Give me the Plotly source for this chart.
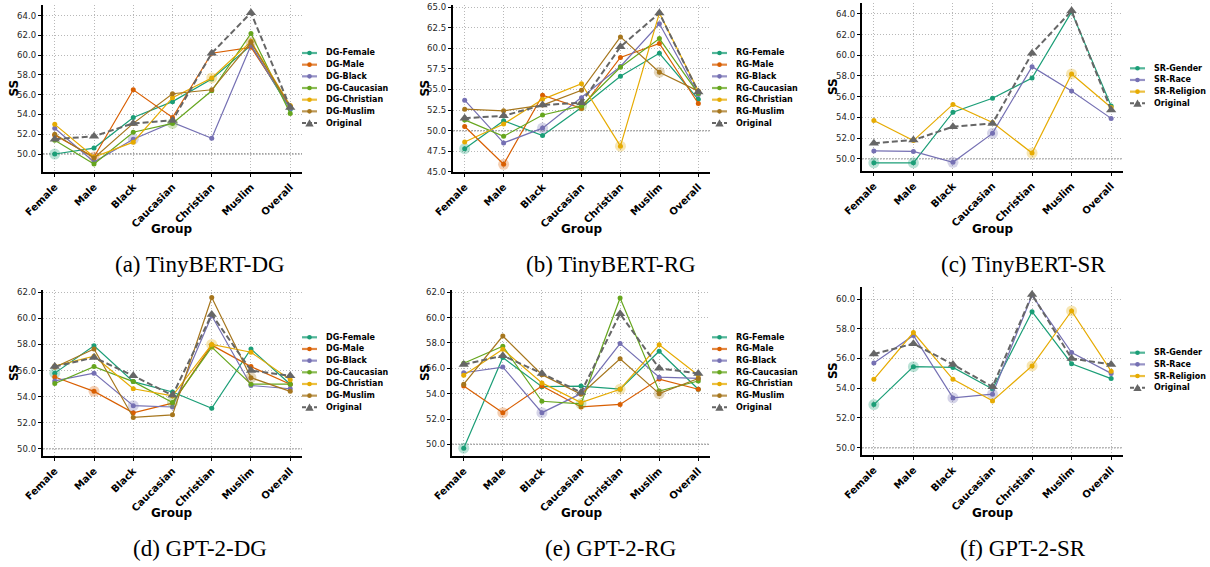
import plotly.graph_objects as go

W, H = 1210, 567

groups = ["Female", "Male", "Black", "Caucasian", "Christian", "Muslim", "Overall"]

# ---------------- TinyBERT ----------------
original_tb = [51.5, 51.8, 53.1, 53.4, 60.2, 64.3, 54.7]

dg_female_tb = [50.0, 50.6, 53.7, 55.3, 57.6, 61.0, 54.5]
dg_male_tb = [51.9, 49.7, 56.5, 53.7, 60.2, 60.8, 54.8]
dg_black_tb = [52.6, 49.2, 51.5, 53.2, 51.6, 61.0, 54.6]
dg_caucasian_tb = [51.4, 49.0, 52.2, 53.1, 56.4, 62.2, 54.1]
dg_christian_tb = [53.0, 49.7, 51.2, 55.7, 57.7, 61.4, 54.9]
dg_muslim_tb = [52.0, 49.6, 53.1, 56.1, 56.5, 61.3, 54.8]

rg_female_tb = [47.8, 51.2, 49.4, 52.8, 56.6, 59.4, 53.8]
rg_male_tb = [50.5, 45.9, 54.3, 52.7, 58.9, 60.6, 53.3]
rg_black_tb = [53.7, 48.5, 50.3, 54.0, 57.8, 63.0, 54.4]
rg_caucasian_tb = [51.3, 49.3, 51.9, 53.0, 57.7, 61.2, 54.5]
rg_christian_tb = [48.6, 50.8, 53.8, 55.7, 48.1, 64.3, 54.8]
rg_muslim_tb = [52.6, 52.4, 53.1, 54.9, 61.4, 57.1, 54.8]

sr_gender_tb = [49.6, 49.6, 54.5, 55.85, 57.8, 64.2, 55.1]
sr_race_tb = [50.75, 50.7, 49.65, 52.45, 58.9, 56.55, 53.9]
sr_religion_tb = [53.7, 51.75, 55.25, 53.5, 50.55, 58.2, 54.95]

# ---------------- GPT-2 ----------------
original_g = [56.3, 57.0, 55.6, 54.1, 60.3, 56.0, 55.6]

dg_female_g = [55.8, 57.9, 55.15, 54.35, 53.1, 57.65, 54.95]
dg_male_g = [55.5, 54.4, 52.75, 53.5, 57.95, 56.3, 54.95]
dg_black_g = [55.2, 55.8, 53.3, 53.2, 60.2, 54.85, 54.6]
dg_caucasian_g = [55.0, 56.3, 55.15, 53.55, 57.8, 54.95, 54.95]
dg_christian_g = [56.35, 57.1, 54.6, 54.05, 58.0, 57.4, 55.3]
dg_muslim_g = [56.25, 57.65, 52.4, 52.6, 61.6, 55.45, 54.4]

rg_female_g = [49.7, 56.85, 54.55, 54.6, 54.35, 57.35, 54.35]
rg_male_g = [54.6, 52.5, 54.6, 52.95, 53.15, 55.15, 54.35]
rg_black_g = [55.65, 56.1, 52.5, 54.0, 57.95, 55.3, 55.2]
rg_caucasian_g = [56.4, 57.75, 53.4, 53.2, 61.55, 54.2, 55.0]
rg_christian_g = [55.45, 57.5, 54.85, 53.3, 54.35, 57.85, 55.45]
rg_muslim_g = [54.75, 58.55, 55.5, 53.95, 56.75, 54.0, 55.2]

sr_gender_g = [52.9, 55.45, 55.4, 53.95, 59.15, 55.65, 54.65]
sr_race_g = [55.7, 57.55, 53.35, 53.6, 60.25, 56.4, 55.0]
sr_religion_g = [54.6, 57.75, 54.6, 53.15, 55.5, 59.2, 55.15]

dg_names = ["DG-Female", "DG-Male", "DG-Black", "DG-Caucasian", "DG-Christian", "DG-Muslim"]
rg_names = ["RG-Female", "RG-Male", "RG-Black", "RG-Caucasian", "RG-Christian", "RG-Muslim"]
sr_names = ["SR-Gender", "SR-Race", "SR-Religion"]
captions = ["(a) TinyBERT-DG", "(b) TinyBERT-RG", "(c) TinyBERT-SR",
            "(d) GPT-2-DG", "(e) GPT-2-RG", "(f) GPT-2-SR"]

colors6 = ["#1b9e77", "#d95f02", "#7570b3", "#66a61e", "#e6ab02", "#a6761d"]
colors3 = ["#1b9e77", "#7570b3", "#e6ab02"]
orig_color = "#666666"
halo6 = [[0], [1], [2], [3], [4], [5]]
halo3 = [[0, 1], [2, 3], [4, 5]]

FONT = "DejaVu Sans"

panels = [
    dict(names=dg_names, series=[dg_female_tb, dg_male_tb, dg_black_tb, dg_caucasian_tb, dg_christian_tb, dg_muslim_tb],
         colors=colors6, halos=halo6, orig=original_tb, box=(43, 5, 302, 172), yr=[48.18, 65.08], dtick=2,
         leg=(302, 53), ss_x=14, grp=(172, 229), cap=(200, 265)),
    dict(names=rg_names, series=[rg_female_tb, rg_male_tb, rg_black_tb, rg_caucasian_tb, rg_christian_tb, rg_muslim_tb],
         colors=colors6, halos=halo6, orig=original_tb, box=(453, 5, 710, 172), yr=[44.96, 65.28], dtick=2.5,
         leg=(712, 53), ss_x=425, grp=(582, 229), cap=(611, 265)),
    dict(names=sr_names, series=[sr_gender_tb, sr_race_tb, sr_religion_tb],
         colors=colors3, halos=halo3, orig=original_tb, box=(862, 3, 1123, 171), yr=[48.81, 65.06], dtick=2,
         leg=(1130, 68.3), ss_x=833, grp=(993, 229), cap=(1023, 265)),
    dict(names=dg_names, series=[dg_female_g, dg_male_g, dg_black_g, dg_caucasian_g, dg_christian_g, dg_muslim_g],
         colors=colors6, halos=halo6, orig=original_g, box=(43, 290, 302, 456), yr=[49.44, 62.18], dtick=2,
         leg=(302, 337.3), ss_x=14, grp=(172, 513), cap=(200, 548)),
    dict(names=rg_names, series=[rg_female_g, rg_male_g, rg_black_g, rg_caucasian_g, rg_christian_g, rg_muslim_g],
         colors=colors6, halos=halo6, orig=original_g, box=(452, 290, 710, 456), yr=[49.08, 62.18], dtick=2,
         leg=(712, 337.3), ss_x=425, grp=(582, 513), cap=(610, 548)),
    dict(names=sr_names, series=[sr_gender_g, sr_race_g, sr_religion_g],
         colors=colors3, halos=halo3, orig=original_g, box=(862, 287, 1123, 455), yr=[49.51, 60.81], dtick=2,
         leg=(1130, 352.7), ss_x=833, grp=(993, 513), cap=(1023, 548)),
]


def px(x):
    return x / W


def py(y):
    return 1 - y / H


fig = go.Figure()
shapes, annotations = [], []
layout = {}
ROW = 11.67

for k, p in enumerate(panels, start=1):
    sfx = "" if k == 1 else str(k)
    xa, ya = "x" + sfx, "y" + sfx
    x0, y0, x1, y1 = p["box"]
    layout["xaxis" + sfx] = dict(
        domain=[px(x0), px(x1)], anchor=ya, type="category",
        categoryorder="array", categoryarray=groups, range=[-0.3, 6.3],
        showline=True, linecolor="black", linewidth=1.5, mirror=False,
        ticks="outside", ticklen=3.5, tickwidth=1, tickcolor="black",
        tickangle=-45, tickfont=dict(family=FONT, size=10, color="black", weight="bold"),
        showgrid=True, gridcolor="#b8b8b8", griddash="1px,2px", gridwidth=1,
        zeroline=False, automargin=False, fixedrange=True,
    )
    layout["yaxis" + sfx] = dict(
        domain=[py(y1), py(y0)], anchor=xa, range=p["yr"], dtick=p["dtick"], tick0=50,
        tickformat=".1f",
        showline=True, linecolor="black", linewidth=1.5, mirror=False,
        ticks="outside", ticklen=3.5, tickwidth=1, tickcolor="black",
        tickfont=dict(family=FONT, size=8.5, color="#262626"),
        showgrid=True, gridcolor="#b8b8b8", griddash="1px,2px", gridwidth=1,
        zeroline=False, automargin=False, fixedrange=True,
    )
    # reference line at SS = 50
    shapes.append(dict(type="line", xref=xa + " domain", x0=0, x1=1, yref=ya, y0=50, y1=50,
                       line=dict(color="#444444", width=1.1, dash="1.5px,1.5px"), layer="below"))

    # series
    for name, vals, col, hidx in zip(p["names"], p["series"], p["colors"], p["halos"]):
        fig.add_trace(go.Scatter(
            x=[groups[j] for j in hidx], y=[vals[j] for j in hidx], xaxis=xa, yaxis=ya,
            mode="markers", marker=dict(size=11, color=col, opacity=0.3),
            showlegend=False, hoverinfo="skip"))
        fig.add_trace(go.Scatter(
            x=groups, y=vals, xaxis=xa, yaxis=ya, name=name, mode="lines+markers",
            line=dict(color=col, width=1.2), marker=dict(size=5, color=col),
            showlegend=False))
    fig.add_trace(go.Scatter(
        x=groups, y=p["orig"], xaxis=xa, yaxis=ya, name="Original", mode="lines+markers",
        line=dict(color=orig_color, width=2, dash="6px,3px"),
        marker=dict(symbol="triangle-up", size=9, color=orig_color),
        showlegend=False))

    # manual legend
    lx, ly0 = p["leg"]
    entries = list(zip(p["names"], p["colors"])) + [("Original", orig_color)]
    for i, (name, col) in enumerate(entries):
        ly = ly0 + i * ROW
        is_orig = name == "Original"
        shapes.append(dict(type="line", xref="paper", yref="paper",
                           x0=px(lx), x1=px(lx + 15), y0=py(ly), y1=py(ly),
                           line=dict(color=col, width=2 if is_orig else 2.2,
                                     dash="4px,2px" if is_orig else "solid"),
                           opacity=1 if is_orig else 0.75))
        cx = lx + 7.5
        if is_orig:
            s = 4.2
            path = (f"M {px(cx - s)},{py(ly + s * 0.8)} L {px(cx + s)},{py(ly + s * 0.8)} "
                    f"L {px(cx)},{py(ly - s * 0.9)} Z")
            shapes.append(dict(type="path", xref="paper", yref="paper", path=path,
                               fillcolor=col, line=dict(color=col, width=0)))
        else:
            r = 2.3
            shapes.append(dict(type="circle", xref="paper", yref="paper",
                               x0=px(cx - r), x1=px(cx + r), y0=py(ly + r), y1=py(ly - r),
                               fillcolor=col, line=dict(color=col, width=0)))
        annotations.append(dict(text=name, xref="paper", yref="paper", x=px(lx + 22), y=py(ly),
                                xanchor="left", yanchor="middle", showarrow=False,
                                font=dict(family=FONT, size=8.0, color="black", weight="bold")))

    # axis titles
    cy = (y0 + y1) / 2
    annotations.append(dict(text="SS", xref="paper", yref="paper", x=px(p["ss_x"]), y=py(cy),
                            xanchor="center", yanchor="middle", textangle=-90, showarrow=False,
                            font=dict(family=FONT, size=12, color="black", weight="bold")))
    gx, gy = p["grp"]
    annotations.append(dict(text="Group", xref="paper", yref="paper", x=px(gx), y=py(gy),
                            xanchor="center", yanchor="middle", showarrow=False,
                            font=dict(family=FONT, size=12, color="black", weight="bold")))
    cxp, cyp = p["cap"]
    annotations.append(dict(text=captions[k - 1], xref="paper", yref="paper", x=px(cxp), y=py(cyp),
                            xanchor="center", yanchor="middle", showarrow=False,
                            font=dict(family="Liberation Serif", size=23, color="black")))

fig.update_layout(
    width=W, height=H, margin=dict(l=0, r=0, t=0, b=0),
    paper_bgcolor="white", plot_bgcolor="white",
    showlegend=False, shapes=shapes, annotations=annotations,
    **layout,
)

fig.write_html("out.html", config={"displayModeBar": False},
               post_script="document.body.style.margin='0';document.body.style.padding='0';")
